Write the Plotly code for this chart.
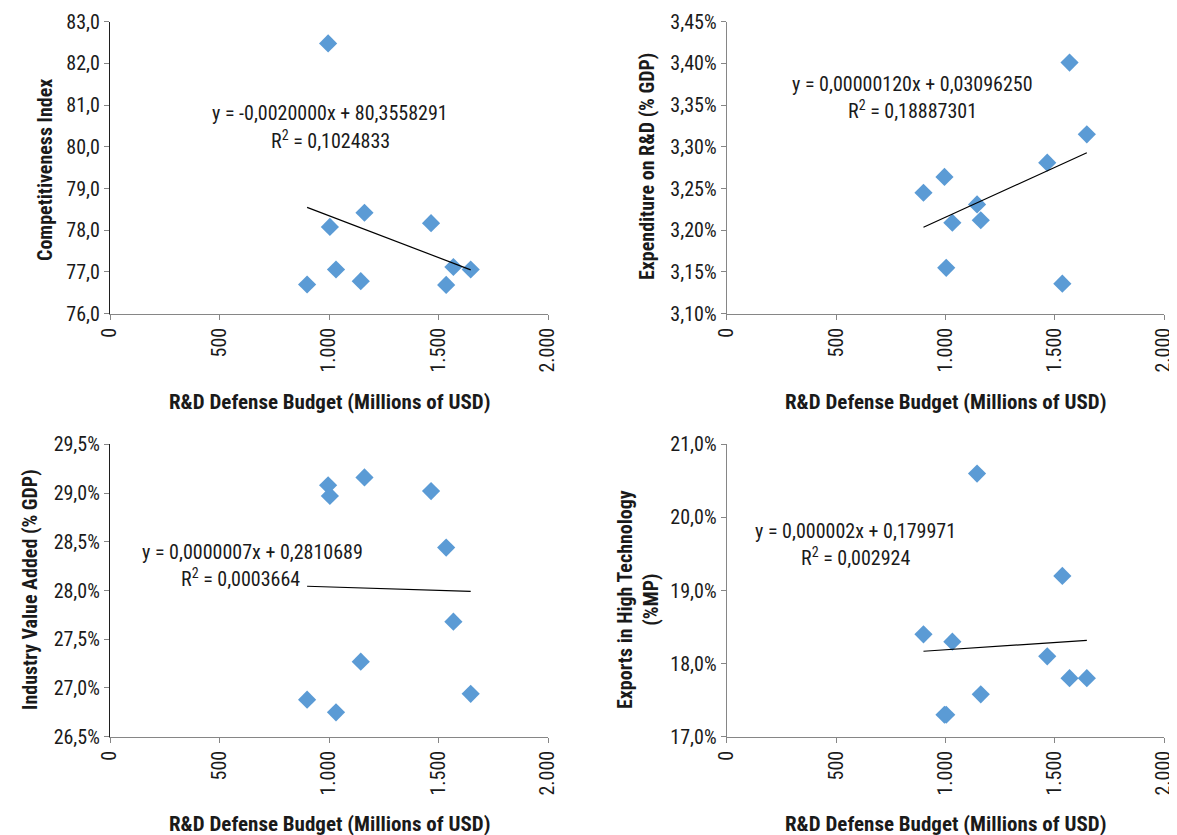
import plotly.graph_objects as go
import numpy as np

# page body has an 8px margin; the figure is sized so it fits the 1177x835 window
OFF = 8
W, H = 1177 - OFF, 835 - OFF

# R&D Defense Budget (Millions of USD)
budget = [900, 996, 1004, 1032, 1145, 1162, 1466, 1535, 1568, 1647]

competitiveness = [76.70, 82.48, 78.08, 77.06, 76.78, 78.42, 78.17, 76.69, 77.12, 77.06]
rd_expenditure = [3.245, 3.264, 3.155, 3.209, 3.231, 3.212, 3.281, 3.136, 3.401, 3.315]
industry_va = [26.88, 29.08, 28.97, 26.75, 27.27, 29.16, 29.02, 28.44, 27.68, 26.94]
hightech_exports = [18.40, 17.30, 17.30, 18.30, 20.60, 17.58, 18.10, 19.20, 17.80, 17.80]

x_ticks = [0, 500, 1000, 1500, 2000]
y_ranges = [[76, 83], [3.10, 3.45], [26.5, 29.5], [17, 21]]
y_dticks = [1, 0.05, 0.5, 1]
y_formats = [".1f", ".2f", ".1f", ".1f"]
y_suffix = ["", "%", "%", "%"]
y_titles = ["Competitiveness Index", "Expenditure on R&D (% GDP)",
            "Industry Value Added (% GDP)", "Exports in High Technology<br>(%MP)"]
x_title = "R&D Defense Budget (Millions of USD)"
equations = [
    ("y = -0,0020000x + 80,3558291", "R<sup>2</sup> = 0,1024833"),
    ("y = 0,00000120x + 0,03096250", "R<sup>2</sup> = 0,18887301"),
    ("y = 0,0000007x + 0,2810689", "R<sup>2</sup> = 0,0003664"),
    ("y = 0,000002x + 0,179971", "R<sup>2</sup> = 0,002924"),
]
series = [competitiveness, rd_expenditure, industry_va, hightech_exports]

# layout in window pixels
plots_px = [  # x0, x1, ytop, ybottom
    (110, 548, 21.7, 313.7),
    (726.7, 1164, 21.7, 313.7),
    (110, 548, 444.3, 736.7),
    (726.7, 1164, 444.3, 736.7),
]
ytitle_px = [(45, 170), (647, 167), (30, 590), (638, 600)]
xtitle_px = [(329, 402), (945, 402), (329, 824), (945, 824)]
eq_px = [((330, 113), (330, 140)), ((912, 84), (912, 110)),
         ((252, 552), (240, 578)), ((855, 531), (855, 557))]

FONT = "Liberation Sans Narrow, Roboto Condensed, DejaVu Sans Condensed, Open Sans, sans-serif"
BLUE = "#5B9BD5"
TXT = "#1a1a1a"

def px(x):
    return (x - OFF) / W

def py(y):
    return 1 - (y - OFF) / H

fig = go.Figure()
annotations = []
for i in range(4):
    xa = "x" if i == 0 else f"x{i+1}"
    ya = "y" if i == 0 else f"y{i+1}"
    yv = series[i]
    fig.add_trace(go.Scatter(x=budget, y=yv, mode="markers", xaxis=xa, yaxis=ya,
                             marker=dict(symbol="diamond", size=14, color=BLUE),
                             showlegend=False, hoverinfo="x+y"))
    m, b = np.polyfit(budget, yv, 1)
    xs = [min(budget), max(budget)]
    fig.add_trace(go.Scatter(x=xs, y=[m * v + b for v in xs], mode="lines",
                             xaxis=xa, yaxis=ya, line=dict(color="black", width=1.2),
                             showlegend=False, hoverinfo="skip"))
    x0, x1, yt, yb = plots_px[i]
    xkey = "xaxis" if i == 0 else f"xaxis{i+1}"
    ykey = "yaxis" if i == 0 else f"yaxis{i+1}"
    yline = "#1f1f1f" if i in (0, 2) else "#868686"
    fig.layout[xkey] = dict(domain=[px(x0), px(x1)], anchor=ya, range=[0, 2000],
                            tickvals=x_ticks, tickformat=",.0f", tickangle=-90,
                            showgrid=False, zeroline=False, showline=True,
                            linecolor="#868686", linewidth=1.3, ticks="outside",
                            ticklen=5, tickcolor="#868686", automargin=False,
                            tickfont=dict(family=FONT, size=20, color=TXT))
    fig.layout[ykey] = dict(domain=[py(yb), py(yt)], anchor=xa, range=y_ranges[i],
                            dtick=y_dticks[i], tick0=y_ranges[i][0],
                            tickformat=y_formats[i], ticksuffix=y_suffix[i],
                            showgrid=False, zeroline=False, showline=True,
                            linecolor=yline, linewidth=1.3, ticks="outside",
                            ticklen=5, tickcolor="#868686", automargin=False,
                            tickfont=dict(family=FONT, size=20, color=TXT))
    tx, ty = ytitle_px[i]
    annotations.append(dict(text="<b>" + y_titles[i].replace("<br>", "</b><br><b>") + "</b>",
                            x=px(tx), y=py(ty), xref="paper", yref="paper",
                            textangle=-90, showarrow=False, xanchor="center", yanchor="middle",
                            font=dict(family=FONT, size=20, color=TXT)))
    tx, ty = xtitle_px[i]
    annotations.append(dict(text="<b>" + x_title + "</b>", x=px(tx), y=py(ty), xref="paper",
                            yref="paper", showarrow=False, xanchor="center", yanchor="middle",
                            font=dict(family=FONT, size=21, color=TXT)))
    for line, (ex, ey) in zip(equations[i], eq_px[i]):
        annotations.append(dict(text=line, x=px(ex), y=py(ey), xref="paper", yref="paper",
                                showarrow=False, xanchor="center", yanchor="middle",
                                font=dict(family=FONT, size=20, color=TXT)))

fig.update_layout(width=W, height=H, autosize=False, margin=dict(l=0, r=0, t=0, b=0),
                  paper_bgcolor="white", plot_bgcolor="white", separators=",.",
                  annotations=annotations, showlegend=False)
fig.write_html("out.html")
